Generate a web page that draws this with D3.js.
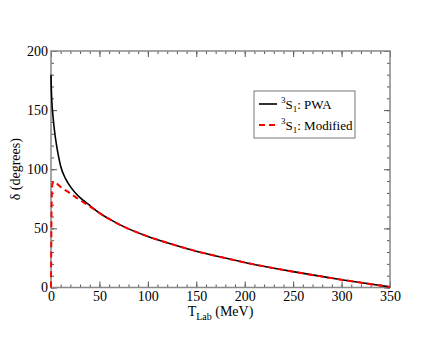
<html>
  <head>
    <meta charset="utf-8">
    <title>3S1 phase shift</title>
    <style>
      body { margin: 0; background: #fff; }
    </style>
  </head>
<body>
  <script src="https://cdn.jsdelivr.net/npm/d3@7/dist/d3.min.js"></script>
  <script>
    // energies (MeV) and phase shifts (degrees)
    var pwaT     = [0, 0.2, 0.5, 1, 1.7, 2.5, 4, 6, 8, 10, 15, 20, 25, 30, 40, 50, 60, 75, 100, 125, 150, 175, 200, 250, 300, 350];
    var pwaDelta = [180, 172, 164, 155, 148, 141, 130, 119, 110, 102.5, 92, 85.3, 80.2, 76, 69.4, 63, 58, 51.5, 43.2, 36.6, 30.7, 25.8, 21.2, 13.4, 6.6, 0.5];
    var modT     = [0, 0.3, 0.8, 1.5, 3, 5, 10, 20, 30, 40, 50, 60, 75, 100, 125, 150, 175, 200, 250, 300, 350];
    var modDelta = [0, 40, 78, 88, 89.5, 88.5, 85, 79.5, 73.8, 68.6, 63, 58, 51.5, 43.2, 36.6, 30.7, 25.8, 21.2, 13.4, 6.6, 0.5];
    var xTicks = [0, 50, 100, 150, 200, 250, 300, 350];
    var yTicks = [0, 50, 100, 150, 200];
    var legendLabels = ["PWA", "Modified"];

    var serif = "'Liberation Serif', 'DejaVu Serif', serif";
    var width = 440, height = 340;
    var pLeft = 51, pRight = 390, pTop = 51, pBottom = 287.5;

    var svg = d3.select("body")
                .append("svg")
                .attr("width", width)
                .attr("height", height)
                .style("font-family", serif);

    var x = d3.scaleLinear().domain([0, 350]).range([pLeft, pRight]);
    var y = d3.scaleLinear().domain([0, 200]).range([pBottom, pTop]);

    var minorX = d3.range(0, 351, 10);
    var minorY = d3.range(0, 201, 10);

    function styleAxis(g) {
      g.attr("font-family", null);
      g.select(".domain").remove();
      g.selectAll(".tick line").attr("stroke", "#555").attr("stroke-width", 1);
      g.selectAll(".tick text").attr("font-size", 14).attr("fill", "#000")
        .style("font-family", serif);
    }

    // minor ticks on all four sides
    svg.append("g").attr("transform", "translate(0," + pBottom + ")")
       .call(d3.axisBottom(x).tickValues(minorX).tickSize(-3).tickFormat(""))
       .call(styleAxis);
    svg.append("g").attr("transform", "translate(0," + pTop + ")")
       .call(d3.axisTop(x).tickValues(minorX).tickSize(-3).tickFormat(""))
       .call(styleAxis);
    svg.append("g").attr("transform", "translate(" + pLeft + ",0)")
       .call(d3.axisLeft(y).tickValues(minorY).tickSize(-3).tickFormat(""))
       .call(styleAxis);
    svg.append("g").attr("transform", "translate(" + pRight + ",0)")
       .call(d3.axisRight(y).tickValues(minorY).tickSize(-3).tickFormat(""))
       .call(styleAxis);

    // major ticks
    svg.append("g").attr("transform", "translate(0," + pBottom + ")")
       .call(d3.axisBottom(x).tickValues(xTicks).tickSize(-6).tickPadding(4).tickFormat(d3.format("d")))
       .call(styleAxis);
    svg.append("g").attr("transform", "translate(0," + pTop + ")")
       .call(d3.axisTop(x).tickValues(xTicks).tickSize(-6).tickFormat(""))
       .call(styleAxis);
    svg.append("g").attr("transform", "translate(" + pLeft + ",0)")
       .call(d3.axisLeft(y).tickValues(yTicks).tickSize(-6).tickPadding(3).tickFormat(d3.format("d")))
       .call(styleAxis);
    svg.append("g").attr("transform", "translate(" + pRight + ",0)")
       .call(d3.axisRight(y).tickValues(yTicks).tickSize(-6).tickFormat(""))
       .call(styleAxis);

    // frame
    svg.append("rect")
       .attr("x", pLeft).attr("y", pTop)
       .attr("width", pRight - pLeft).attr("height", pBottom - pTop)
       .attr("fill", "none").attr("stroke", "#888").attr("stroke-width", 1.5);

    var line = d3.line()
                 .x(function(d) { return x(d[0]); })
                 .y(function(d) { return y(d[1]); })
                 .curve(d3.curveMonotoneX);

    var pwa = pwaT.map(function(t, i) { return [t, pwaDelta[i]]; });
    var mod = modT.map(function(t, i) { return [t, modDelta[i]]; });

    svg.append("path").datum(pwa)
       .attr("d", line).attr("fill", "none")
       .attr("stroke", "#000").attr("stroke-width", 1.6);
    svg.append("path").datum(mod)
       .attr("d", line).attr("fill", "none")
       .attr("stroke", "#ff0000").attr("stroke-width", 2)
       .attr("stroke-dasharray", "6,4");

    // axis titles
    svg.append("text")
       .attr("transform", "translate(20," + ((pTop + pBottom) / 2) + ") rotate(-90)")
       .attr("text-anchor", "middle").attr("font-size", 14)
       .text("δ  (degrees)");

    var xt = svg.append("text")
       .attr("x", (pLeft + pRight) / 2).attr("y", 316)
       .attr("text-anchor", "middle").attr("font-size", 14);
    xt.append("tspan").text("T");
    xt.append("tspan").attr("font-size", 10).attr("dy", 4).text("Lab");
    xt.append("tspan").attr("dy", -4).text(" (MeV)");

    // legend
    var lg = svg.append("g");
    lg.append("rect")
      .attr("x", 254).attr("y", 91).attr("width", 101).attr("height", 47)
      .attr("fill", "#fff").attr("stroke", "#777").attr("stroke-width", 1);
    var styles = [{c: "#000", w: 1.6, dash: null}, {c: "#ff0000", w: 2, dash: "6,4"}];
    legendLabels.forEach(function(lab, i) {
      var yy = 104 + i * 21;
      lg.append("line")
        .attr("x1", 259).attr("x2", 277).attr("y1", yy).attr("y2", yy)
        .attr("stroke", styles[i].c).attr("stroke-width", styles[i].w)
        .attr("stroke-dasharray", styles[i].dash);
      var t = lg.append("text").attr("x", 281).attr("y", yy + 5).attr("font-size", 13);
      t.append("tspan").attr("font-size", 9).attr("dy", -6).text("3");
      t.append("tspan").attr("dy", 6).text("S");
      t.append("tspan").attr("font-size", 9).attr("dy", 3).text("1");
      t.append("tspan").attr("dy", -3).text(": " + lab);
    });
  </script>
</body>
</html>
